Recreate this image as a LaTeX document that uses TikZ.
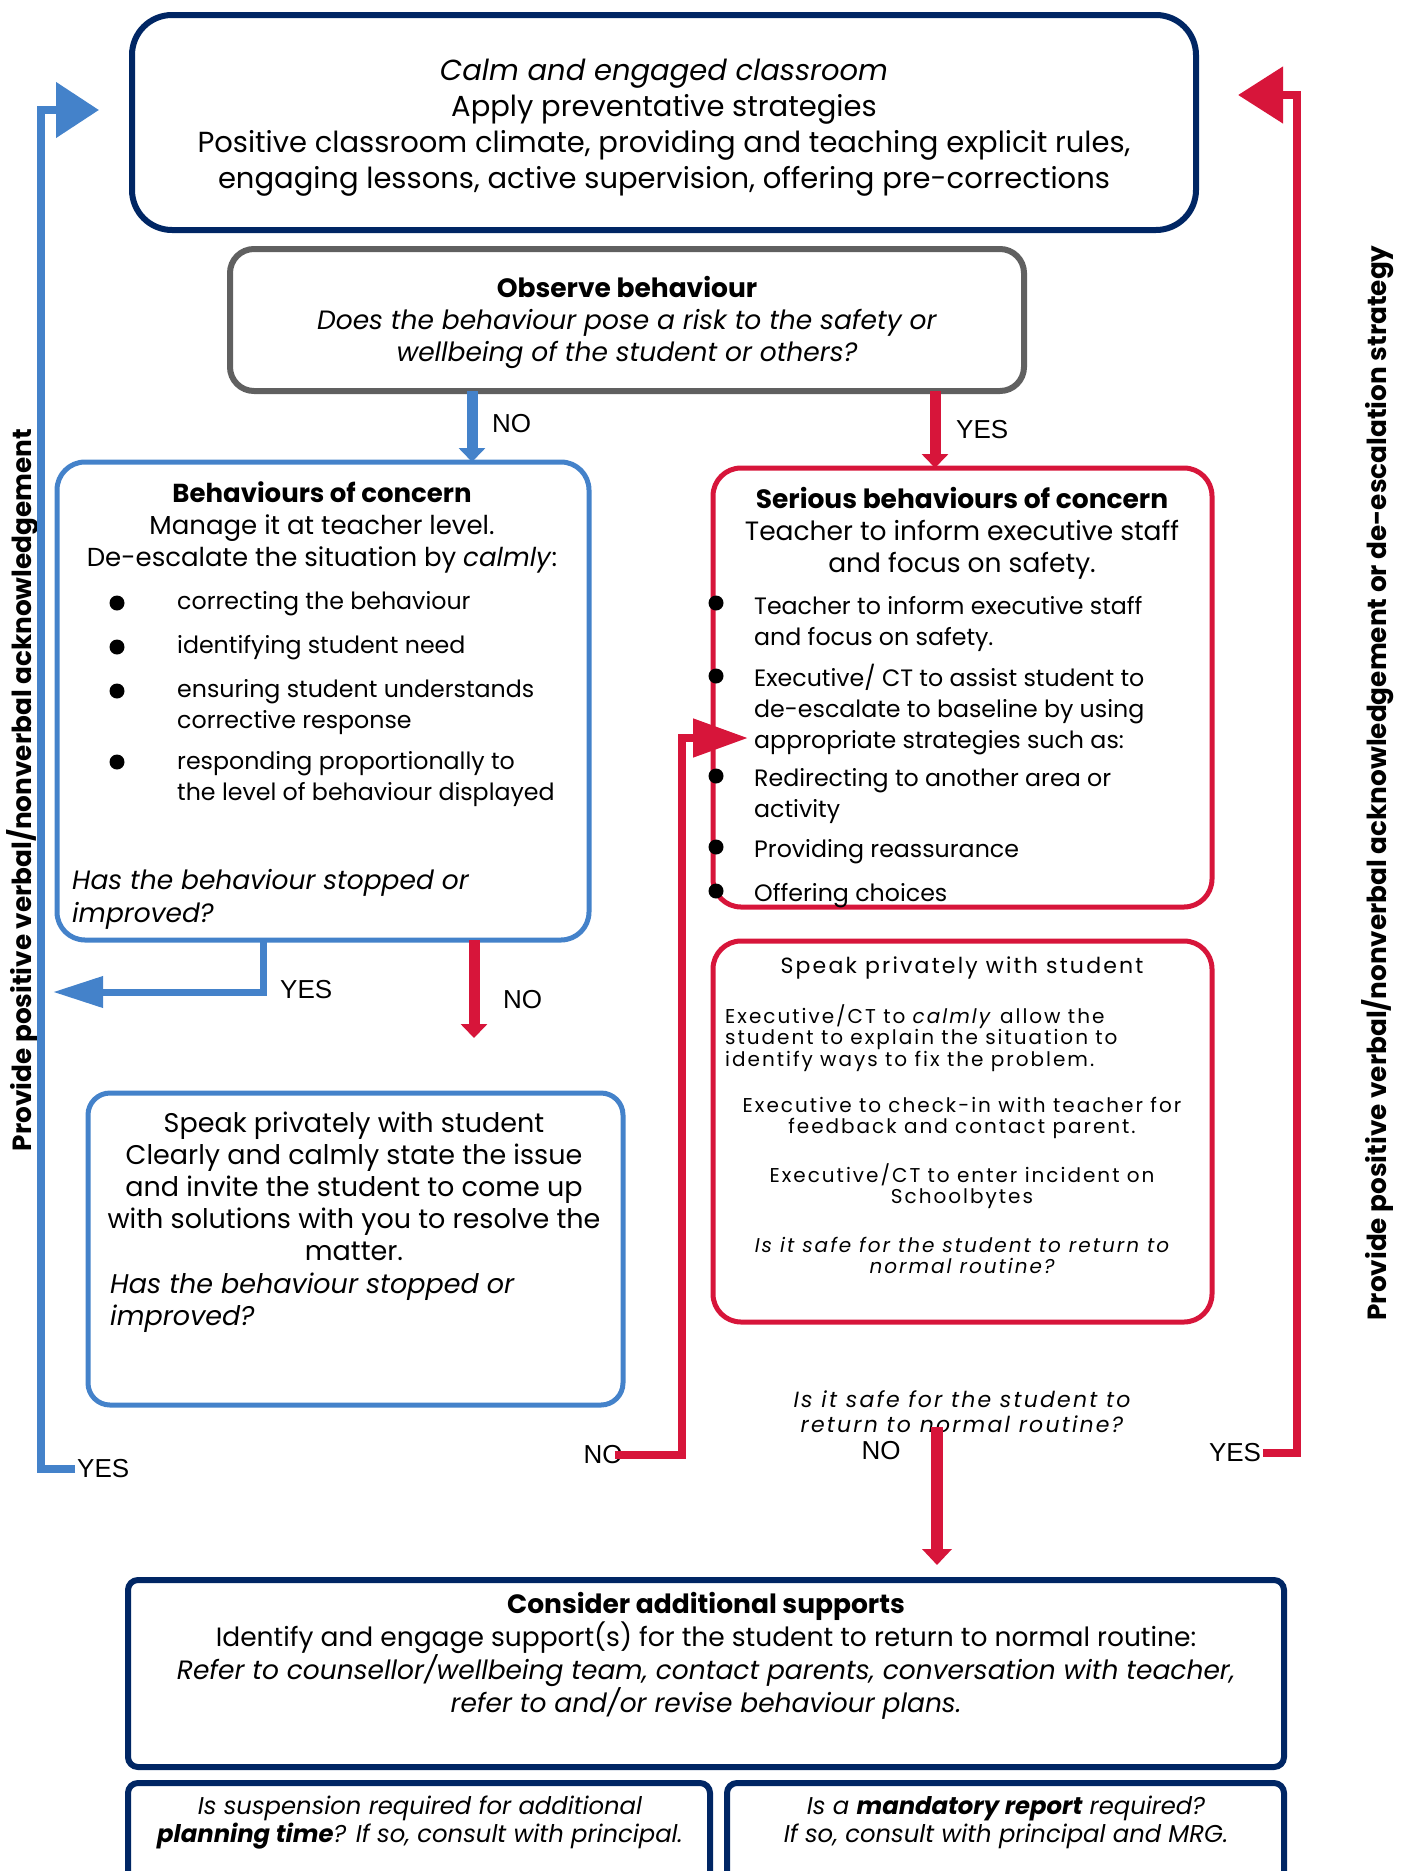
\documentclass[tikz,border=0pt]{standalone}
\usepackage{fontspec}
\setmainfont{Poppins}
\newfontfamily\labelfont{Liberation Sans}
\newcommand\widetrack{\addfontfeatures{LetterSpace=10}}
\usetikzlibrary{arrows.meta, positioning}
\definecolor{navycolor}{RGB}{0,38,100}
\definecolor{bluecolor}{RGB}{68,130,202}
\definecolor{redcolor}{RGB}{215,21,58}
\definecolor{greycolor}{RGB}{96,96,96}

\begin{document}
\begin{tikzpicture}[
    x=1pt, y=-1pt,
    panel/.style={draw, inner sep=0pt, outer sep=0pt, line width=5pt},
    bigtext/.style={align=center, inner sep=0pt, font=\fontsize{29}{36}\selectfont},
    midtext/.style={align=center, inner sep=0pt, font=\fontsize{26.5}{32}\selectfont},
    listtext/.style={align=left, inner sep=0pt, anchor=west, font=\fontsize{23.7}{31}\selectfont},
    smalltext/.style={align=center, inner sep=0pt, font=\widetrack\fontsize{20}{21.5}\selectfont},
    yesno/.style={inner sep=0pt, font=\labelfont\fontsize{26}{30}\selectfont},
    sidetext/.style={inner sep=0pt, rotate=90, font=\bfseries\fontsize{26.3}{30}\selectfont},
    bluestem/.style={draw=bluecolor, line width=11pt, -{Triangle[length=14pt,width=26pt]}},
    redstem/.style={draw=redcolor, line width=12pt, -{Triangle[length=16pt,width=29pt]}},
    blueloop/.style={draw=bluecolor, line width=8pt, line join=miter, -{Triangle[length=50pt,width=30pt]}},
    redloop/.style={draw=redcolor, line width=8pt, line join=miter, -{Triangle[length=55pt,width=37pt]}},
    dot/.style={fill=black}
]
    \useasboundingbox (0,0) rectangle (1409,1871);
    \clip (0,0) rectangle (1409,1871);

    % Boxes
    \node[panel, draw=navycolor, line width=6pt, rounded corners=40pt, minimum width=1064pt, minimum height=215pt] (calm) at (664,122.5) {};
    \node[panel, draw=greycolor, line width=6pt, rounded corners=24pt, minimum width=794pt, minimum height=142pt] (observe) at (627,320) {};
    \node[panel, draw=bluecolor, rounded corners=28pt, minimum width=532pt, minimum height=478pt] (concern) at (323,701) {};
    \node[panel, draw=redcolor, rounded corners=28pt, minimum width=499pt, minimum height=439pt] (serious) at (962.5,687.5) {};
    \node[panel, draw=redcolor, rounded corners=28pt, minimum width=499pt, minimum height=381pt] (redspeak) at (962.5,1131.5) {};
    \node[panel, draw=bluecolor, rounded corners=22pt, minimum width=535pt, minimum height=312pt] (bluespeak) at (355.5,1249) {};
    \node[panel, draw=navycolor, line width=6pt, rounded corners=10pt, minimum width=1156pt, minimum height=187pt] (supports) at (706,1673.5) {};
    \node[panel, draw=navycolor, line width=6pt, rounded corners=10pt, minimum width=582pt, minimum height=160pt] (suspend) at (419,1863) {};
    \node[panel, draw=navycolor, line width=6pt, rounded corners=10pt, minimum width=557pt, minimum height=160pt] (mandatory) at (1005.5,1863) {};

    % Box texts
    \node[bigtext] (calmtxt) at (664,128) {\textit{Calm and engaged classroom}\\Apply preventative strategies\\Positive classroom climate, providing and teaching explicit rules,\\engaging lessons, active supervision, offering pre-corrections};
    \node[midtext] (observetxt) at (627,322.5) {\textbf{Observe behaviour}\\\textit{Does the behaviour pose a risk to the safety or}\\\textit{wellbeing of the student or others?}};

    \node[midtext, font=\fontsize{26}{32}\selectfont] (concerntxt) at (322,527.5) {\textbf{Behaviours of concern}\\Manage it at teacher level.\\De-escalate the situation by \textit{calmly}:};
    \node[listtext] (c1) at (177,603.5) {correcting the behaviour};
    \node[listtext] (c2) at (177,647.5) {identifying student need};
    \node[listtext] (c3) at (177,707) {ensuring student understands\\corrective response};
    \node[listtext] (c4) at (177,779) {responding proportionally to\\the level of behaviour displayed};
    \node[listtext, font=\itshape\fontsize{26.5}{33}\selectfont] (cq) at (72,899.5) {Has the behaviour stopped or\\improved?};
    \foreach \y in {603,647,691,762} \fill[dot] (117,\y) circle (7.5pt);

    \node[midtext] (serioustxt) at (962,533.5) {\textbf{Serious behaviours of concern}\\Teacher to inform executive staff\\and focus on safety.};
    \node[listtext] (s1) at (754,623.5) {Teacher to inform executive staff\\and focus on safety.};
    \node[listtext] (s2) at (754,710) {Executive/ CT to assist student to\\de-escalate to baseline by using\\appropriate strategies such as:};
    \node[listtext] (s3) at (754,796) {Redirecting to another area or\\activity};
    \node[listtext] (s4) at (754,852) {Providing reassurance};
    \node[listtext] (s5) at (754,896) {Offering choices};
    \foreach \y in {603,676,776,847,891} \fill[dot] (716,\y) circle (7.5pt);

    \node[smalltext, font=\widetrack\fontsize{22}{24}\selectfont] (redspeaktxt) at (962,967.5) {Speak privately with student};
    \node[smalltext, align=left, anchor=west] (r1) at (725,1038) {Executive/CT to \textit{calmly} allow the\\student to explain the situation to\\identify ways to fix the problem.};
    \node[smalltext] (r2) at (962,1118) {Executive to check-in with teacher for\\feedback and contact parent.};
    \node[smalltext] (r3) at (962,1186) {Executive/CT to enter incident on\\Schoolbytes};
    \node[smalltext, font=\itshape\widetrack\fontsize{20}{21.5}\selectfont] (r4) at (962,1255.5) {Is it safe for the student to return to\\normal routine?};

    \node[midtext, font=\fontsize{27}{32}\selectfont] (bluespeaktxt) at (354,1186) {Speak privately with student\\Clearly and calmly state the issue\\and invite the student to come up\\with solutions with you to resolve the\\matter.};
    \node[listtext, font=\itshape\fontsize{27}{32}\selectfont] (bq) at (110,1302.5) {Has the behaviour stopped or\\improved?};

    \node[midtext, font=\fontsize{26.5}{31}\selectfont] (supportstxt) at (706,1656) {\textbf{Consider additional supports}\\Identify and engage support(s) for the student to return to normal routine:\\\textit{Refer to counsellor/wellbeing team, contact parents, conversation with teacher,}\\\textit{refer to and/or revise behaviour plans.}};
    \node[midtext, font=\itshape\fontsize{24.3}{28}\selectfont] (suspendtxt) at (420,1822.5) {Is suspension required for additional\\\textbf{planning time}? If so, consult with principal.};
    \node[midtext, font=\itshape\fontsize{24.3}{28}\selectfont] (mandatorytxt) at (1006,1822.5) {Is a \textbf{mandatory report} required?\\If so, consult with principal and MRG.};

    % Question under the red box
    \node[smalltext, font=\itshape\widetrack\fontsize{22}{25}\selectfont] (safeq) at (962,1412) {Is it safe for the student to\\return to normal routine?};

    % Side texts
    \node[sidetext] (lefttxt) at (23,790) {Provide positive verbal/nonverbal acknowledgement};
    \node[sidetext] (righttxt) at (1378,783) {Provide positive verbal/nonverbal acknowledgement or de-escalation strategy};

    % Yes / no labels
    \node[yesno, anchor=west] (obsno) at (492,424) {NO};
    \node[yesno, anchor=west] (obsyes) at (956,430) {YES};
    \node[yesno, anchor=west] (conyes) at (280,990) {YES};
    \node[yesno, anchor=west] (conno) at (503,1000) {NO};
    \node[yesno, anchor=west] (leftyes) at (77,1469) {YES};
    \node[yesno] (blueno) at (603,1455) {NO};
    \node[yesno] (safeno) at (881,1451) {NO};
    \node[yesno] (safeyes) at (1235,1453) {YES};

    % Turning points and free ends
    \coordinate (nox) at (472,0);
    \coordinate (yesx) at (935,0);
    \coordinate (conyesx) at (263,0);
    \coordinate (connox) at (474,0);
    \coordinate (conyestip) at (53,992);
    \coordinate (connoend) at (474,1038);
    \coordinate (leftturn) at (41,110);
    \coordinate (lefttip) at (99,110);
    \coordinate (redturn) at (682,738);
    \coordinate (redtip) at (748,738);
    \coordinate (rightturn) at (1297,95);
    \coordinate (righttip) at (1238,95);
    \coordinate (downstart) at (937,1427);
    \coordinate (downend) at (937,1565);

    % Arrows
    \draw[bluestem] (observe.south -| nox) -- (concern.north -| nox);
    \draw[redstem, line width=11pt, -{Triangle[length=14pt,width=26pt]}] (observe.south -| yesx) -- (serious.north -| yesx);
    \draw[blueloop, line width=7pt] (concern.south -| conyesx) |- (conyestip);
    \draw[redstem, line width=11pt, -{Triangle[length=14pt,width=26pt]}] (concern.south -| connox) -- (connoend);
    \draw[blueloop, -{Triangle[length=43pt,width=54pt]}] ([xshift=-2pt]leftyes.west) -| (leftturn) -- (lefttip);
    \draw[redloop] ([xshift=-8pt]blueno.east) -| (redturn) -- (redtip);
    \draw[redloop, -{Triangle[length=45pt,width=55pt]}] ([xshift=2pt]safeyes.east) -| (rightturn) -- (righttip);
    \draw[redstem] (downstart) -- (downend);
\end{tikzpicture}
\end{document}
